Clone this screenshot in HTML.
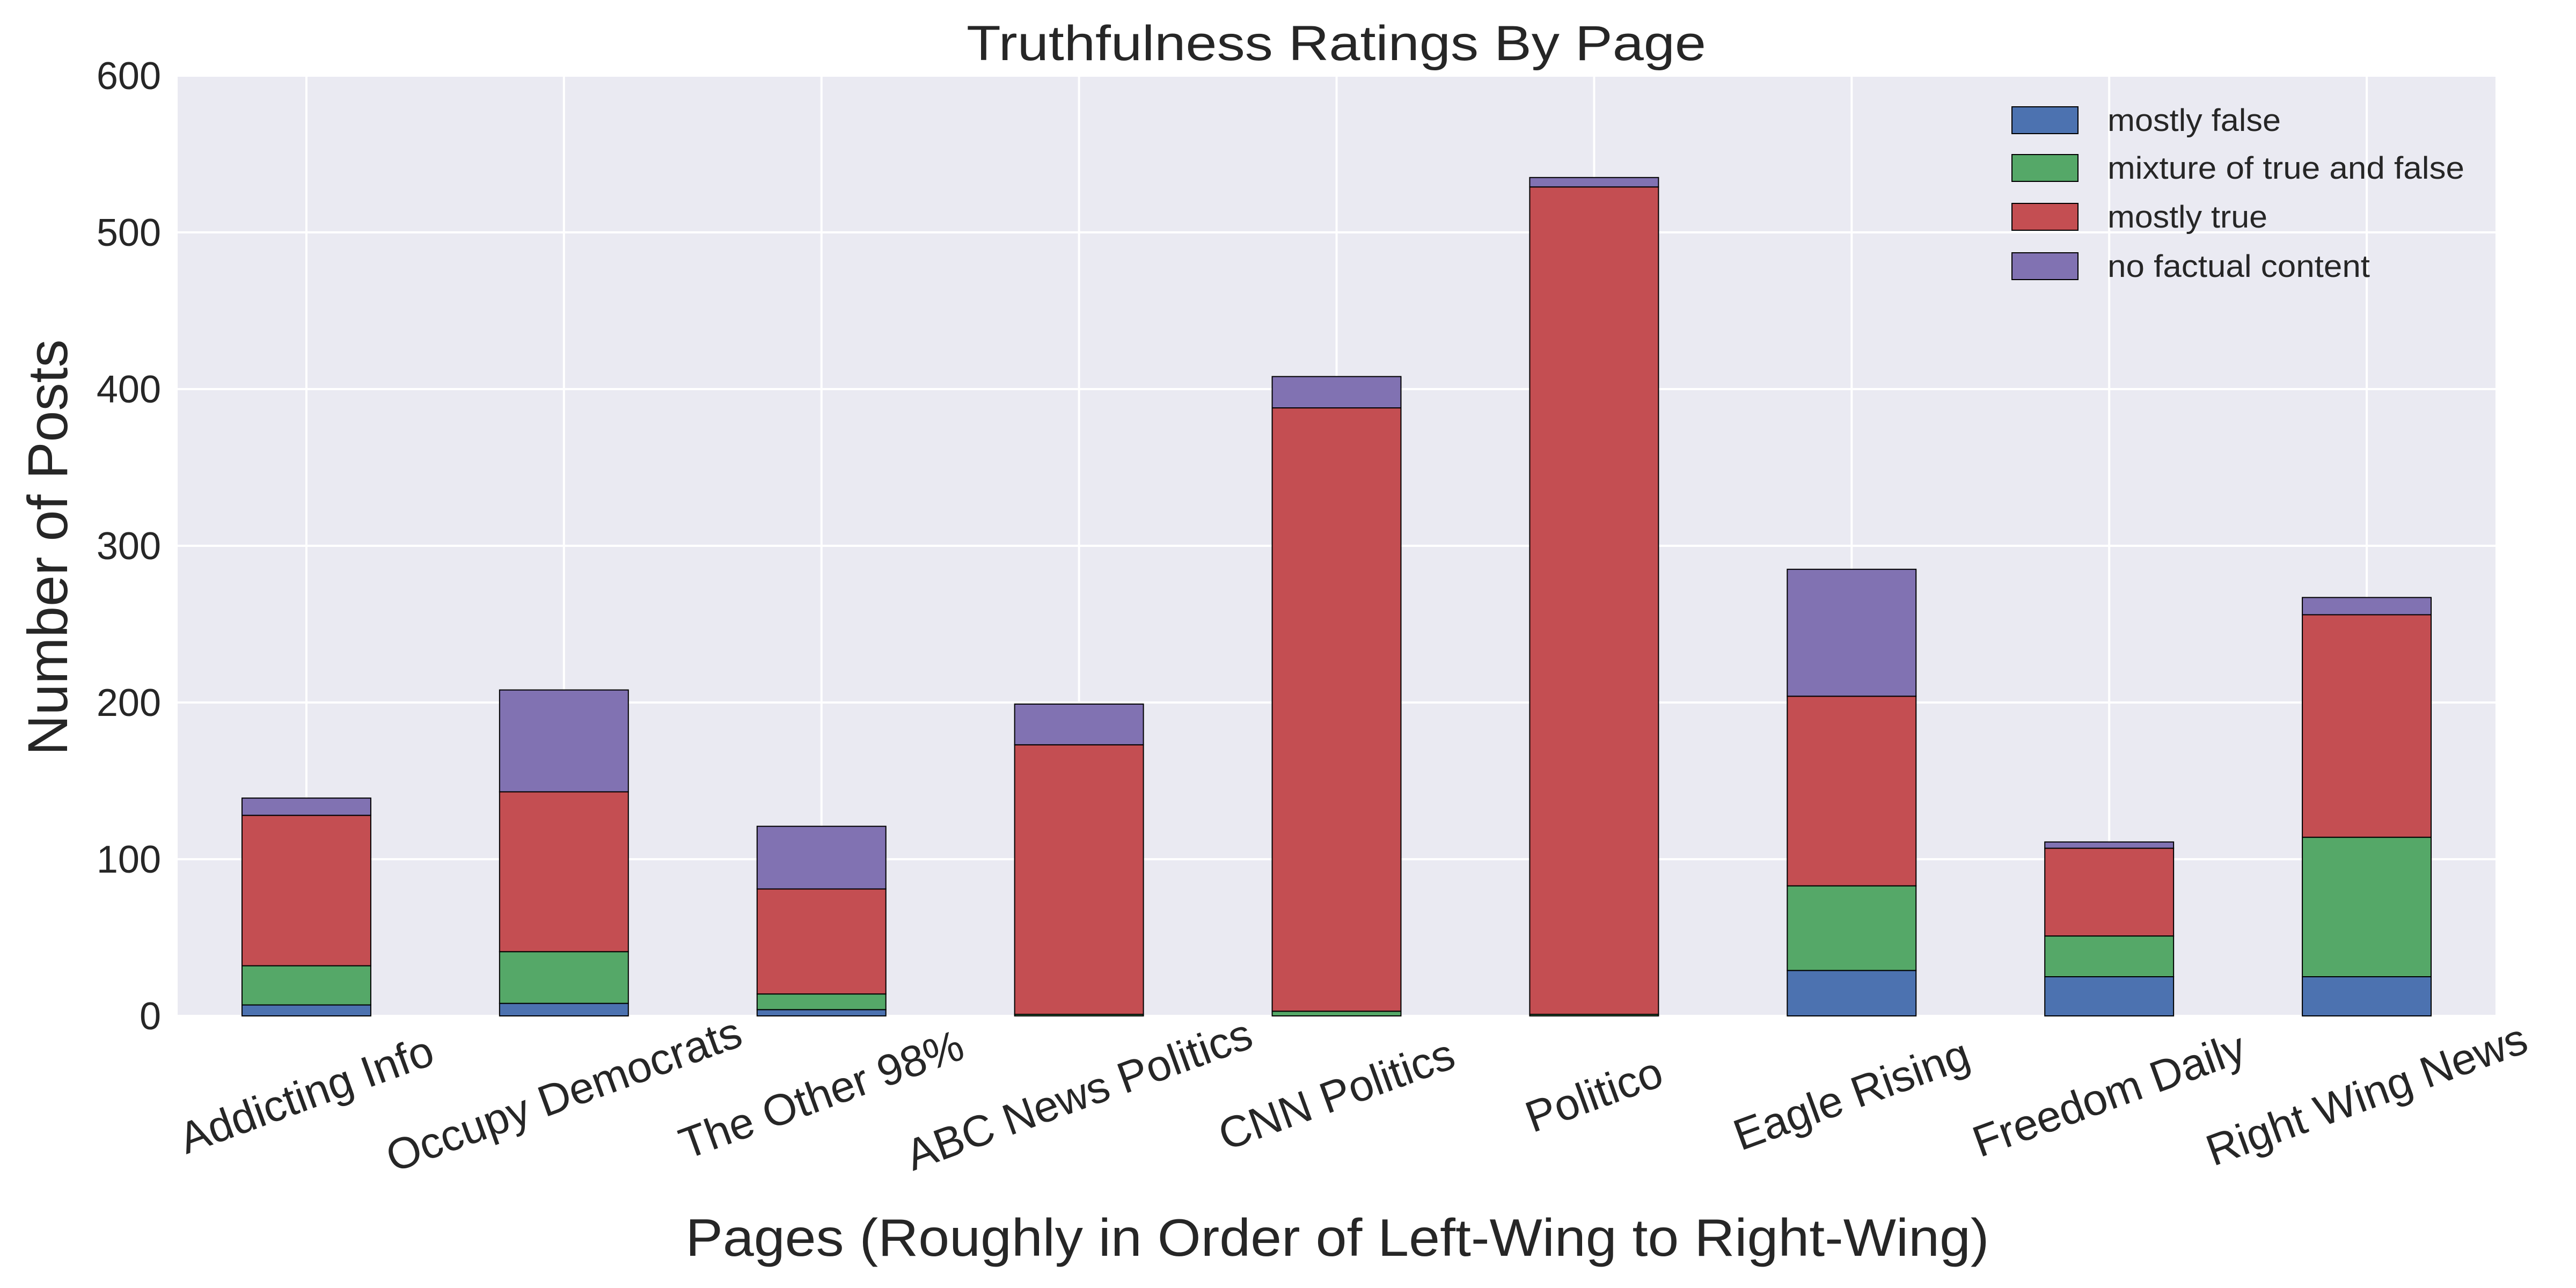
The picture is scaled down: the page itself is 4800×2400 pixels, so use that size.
<!DOCTYPE html>
<html><head><meta charset="utf-8"><style>html,body{margin:0;padding:0;background:#fff}svg{display:block}text{font-family:"Liberation Sans",sans-serif;fill:#262626}</style></head>
<body>
<svg id="chart" width="4800" height="2400" viewBox="0 0 4800 2400" xmlns="http://www.w3.org/2000/svg">
<rect x="331" y="141" width="4319" height="1752" fill="#eaeaf2"/>
<g id="grid"></g><g id="bars"></g><g id="axes"></g><g id="legend"></g>
<text x="2490" y="112" font-size="92" text-anchor="middle" textLength="1378" lengthAdjust="spacingAndGlyphs">Truthfulness Ratings By Page</text>
<text x="2492" y="2340" font-size="98" text-anchor="middle" textLength="2429" lengthAdjust="spacingAndGlyphs">Pages (Roughly in Order of Left-Wing to Right-Wing)</text>
<text transform="translate(125,1020) rotate(-90)" font-size="105" text-anchor="middle" textLength="775" lengthAdjust="spacingAndGlyphs">Number of Posts</text>
</svg>
<script>
const categories=["Addicting Info","Occupy Democrats","The Other 98%","ABC News Politics","CNN Politics","Politico","Eagle Rising","Freedom Daily","Right Wing News"];
const mostlyFalse=[7,8,4,0,0,0,29,25,25];
const mixture=[25,33,10,1,3,1,54,26,89];
const mostlyTrue=[96,102,67,172,385,528,121,56,142];
const noFactual=[11,65,40,26,20,6,81,4,11];
const seriesNames=["mostly false","mixture of true and false","mostly true","no factual content"];
const yTicks=[0,100,200,300,400,500,600];
const colors=["#4c72b0","#55a868","#c44e52","#8172b2"];
const NS="http://www.w3.org/2000/svg";
const L=331,R=4650,T=141,B=1893;
const xs=i=>L+(i+0.5)*(R-L)/categories.length;
const bw=(R-L)/categories.length*0.5;
const ys=v=>B-v*(B-T)/600;
function mk(tag,attrs,parent,txt){const e=document.createElementNS(NS,tag);for(const k in attrs)e.setAttribute(k,attrs[k]);if(txt!==undefined)e.textContent=txt;parent.appendChild(e);return e;}
const grid=document.getElementById('grid'),bars=document.getElementById('bars'),axes=document.getElementById('axes'),leg=document.getElementById('legend');
yTicks.forEach(t=>{
  const l=mk('line',{x1:L,x2:R,y1:ys(t),y2:ys(t),stroke:'#fff','stroke-width':4},grid);
  
  
  const tx=mk('text',{x:300,y:ys(t)+25,'font-size':72,'text-anchor':'end'},axes,String(t));
  
  
});
categories.forEach((c,i)=>{
  const l=mk('line',{x1:xs(i),x2:xs(i),y1:T,y2:B,stroke:'#fff','stroke-width':4},grid);
  
  
  const cy=2040;
  const tx=mk('text',{x:xs(i),y:cy,'font-size':82,'text-anchor':'middle','dominant-baseline':'central',transform:`rotate(-20 ${xs(i)} ${cy})`},axes,c);
  
  
});
const series=[mostlyFalse,mixture,mostlyTrue,noFactual];
categories.forEach((c,i)=>{
  let base=0;
  series.forEach((s,k)=>{
    const v=s[i];
    const r=mk('rect',{x:xs(i)-bw/2,y:ys(base+v),width:bw,height:ys(base)-ys(base+v),fill:colors[k],stroke:'#000','stroke-width':2},bars);
    
    
    base+=v;
  });
});
const lys=[224,313,404,496];
seriesNames.forEach((n,k)=>{
  const r=mk('rect',{x:3749,y:lys[k]-25,width:123,height:50,fill:colors[k],stroke:'#000','stroke-width':2},leg);
  
  
  const w=[323,665,298,489][k];
  const t=mk('text',{x:3927,y:lys[k]+20,'font-size':58,textLength:w,lengthAdjust:'spacingAndGlyphs'},leg,n);
  
  
});
</script>
</body></html>
